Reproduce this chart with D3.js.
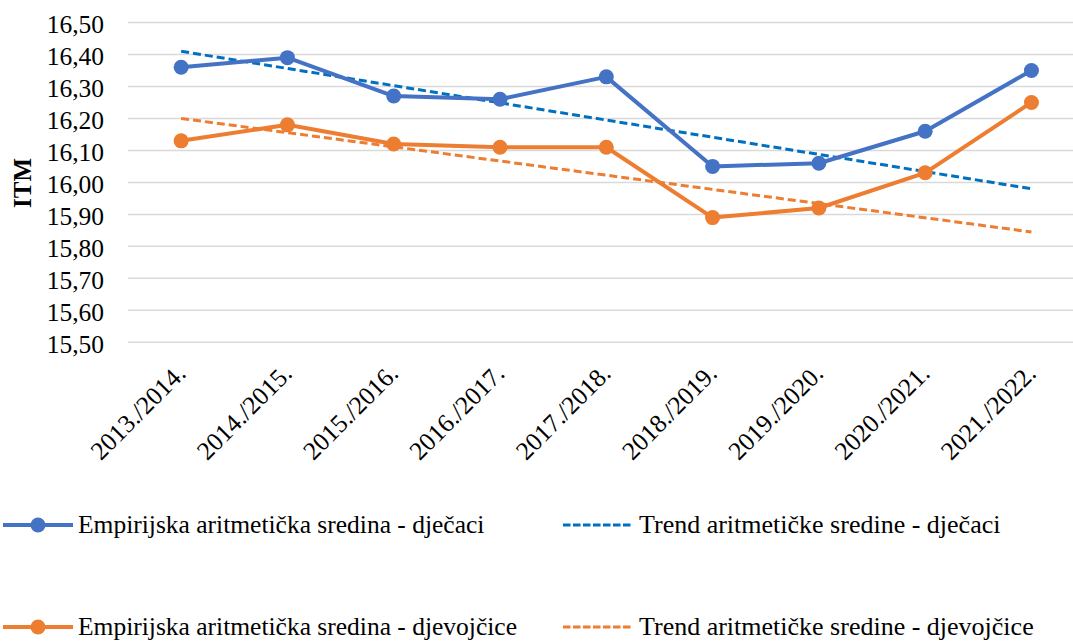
<!DOCTYPE html>
<html>
<head>
<meta charset="utf-8">
<script src="https://cdn.jsdelivr.net/npm/d3@7"></script>
<style>
  html, body { margin: 0; padding: 0; background: #fff; overflow: hidden; }
</style>
</head>
<body>
<svg id="chart" width="1073" height="643"></svg>
<script>
// School years
const years = ["2013./2014.", "2014./2015.", "2015./2016.", "2016./2017.", "2017./2018.",
               "2018./2019.", "2019./2020.", "2020./2021.", "2021./2022."];

// Mean ITM per year
const boys  = [16.36, 16.39, 16.27, 16.26, 16.33, 16.05, 16.06, 16.16, 16.35];
const girls = [16.13, 16.18, 16.12, 16.11, 16.11, 15.89, 15.92, 16.03, 16.25];

// Linear trend, value at the first and last school year
const boysTrend  = [16.41, 15.98];
const girlsTrend = [16.20, 15.845];

// Y axis ticks
const yTicks = [15.5, 15.6, 15.7, 15.8, 15.9, 16.0, 16.1, 16.2, 16.3, 16.4, 16.5];

const legendItems = [
  { label: "Empirijska aritmetička sredina - dječaci", color: "#4472C4", dashed: false },
  { label: "Trend aritmetičke sredine - dječaci", color: "#0070C0", dashed: true },
  { label: "Empirijska aritmetička sredina - djevojčice", color: "#ED7D31", dashed: false },
  { label: "Trend aritmetičke sredine - djevojčice", color: "#ED7D31", dashed: true }
];

const FONT = "Liberation Serif";
const FS = 25.5;

const svg = d3.select("#chart");

const x = d3.scaleBand().domain(years).range([128, 1084.6]);
const xc = d => x(d) + x.bandwidth() / 2;
const y = d3.scaleLinear().domain([15.5, 16.5]).range([342.3, 22.5]);

const fmt = v => d3.format(".2f")(v).replace(".", ",");

// Horizontal gridlines
svg.append("g").selectAll("line").data(yTicks).join("line")
  .attr("x1", 128).attr("x2", 1084.6)
  .attr("y1", d => y(d)).attr("y2", d => y(d))
  .attr("stroke", "#D9D9D9").attr("stroke-width", 1.5);

// Y tick labels
const yAxis = d3.axisLeft(y).tickValues(yTicks).tickFormat(fmt).tickSize(0).tickPadding(0);
const gy = svg.append("g").attr("transform", "translate(104,0)").call(yAxis);
gy.attr("font-family", FONT);
gy.select(".domain").remove();
gy.selectAll("text").attr("font-size", FS).attr("font-family", FONT)
  .attr("fill", "#000").attr("dy", "0.38em");

// Y axis title
svg.append("text")
  .attr("transform", `translate(31,183) rotate(-90)`)
  .attr("text-anchor", "middle")
  .attr("font-family", FONT)
  .attr("font-size", 25).attr("font-weight", "bold")
  .text("ITM");

// X tick labels, rotated
const xAxis = d3.axisBottom(x).tickSize(0).tickPadding(0);
const gx = svg.append("g").call(xAxis);
gx.attr("font-family", FONT);
gx.select(".domain").remove();
gx.selectAll(".tick").attr("transform", null);
gx.selectAll(".tick text")
  .attr("font-size", FS)
  .attr("font-family", FONT)
  .attr("fill", "#000")
  .attr("text-anchor", "end")
  .attr("dy", null).attr("y", null)
  .attr("transform", d => `translate(${xc(d) + 6},${375}) rotate(-45)`);

// Trend lines
function trend(vals, color) {
  const pts = [[xc(years[0]), y(vals[0])], [xc(years[years.length - 1]), y(vals[1])]];
  svg.append("path")
    .attr("d", d3.line()(pts))
    .attr("fill", "none").attr("stroke", color)
    .attr("stroke-width", 3).attr("stroke-dasharray", "8,4");
}
trend(boysTrend, "#0070C0");
trend(girlsTrend, "#ED7D31");

// Series lines with markers
function series(vals, color) {
  const line = d3.line().x((d, i) => xc(years[i])).y(d => y(d));
  svg.append("path").datum(vals)
    .attr("d", line)
    .attr("fill", "none").attr("stroke", color)
    .attr("stroke-width", 4).attr("stroke-linejoin", "round");
  svg.append("g").selectAll("circle").data(vals).join("circle")
    .attr("cx", (d, i) => xc(years[i])).attr("cy", d => y(d))
    .attr("r", 7.5).attr("fill", color);
}
series(girls, "#ED7D31");
series(boys, "#4472C4");

// Legend
const legendPos = [[3, 525], [563, 525], [3, 627], [563, 627]];
legendItems.forEach((it, i) => {
  const [lx, ly] = legendPos[i];
  const g = svg.append("g").attr("transform", `translate(${lx},${ly})`);
  g.append("line").attr("x1", 0).attr("x2", 70).attr("y1", 0).attr("y2", 0)
    .attr("stroke", it.color)
    .attr("stroke-width", it.dashed ? 3 : 4)
    .attr("stroke-dasharray", it.dashed ? "7.5,2.5" : null);
  if (!it.dashed) {
    g.append("circle").attr("cx", 35).attr("cy", 0).attr("r", 7.5).attr("fill", it.color);
  }
  g.append("text").attr("x", it.dashed ? 76 : 75).attr("y", 0).attr("dy", "0.31em")
    .attr("font-family", FONT).attr("fill", "#000")
    .attr("font-size", it.dashed ? 26 : FS).text(it.label);
});
</script>
</body>
</html>
